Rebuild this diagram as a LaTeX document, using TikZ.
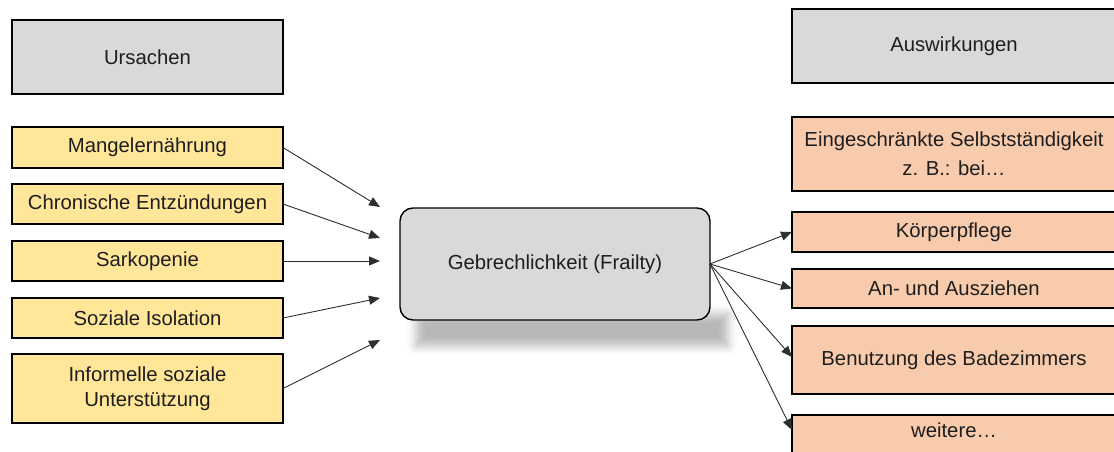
\documentclass[tikz,border=0pt]{standalone}
\usepackage{fontspec}
\setmainfont{Liberation Sans}
\usetikzlibrary{arrows.meta,shadows.blur,backgrounds}
\definecolor{headgray}{HTML}{D9D9D9}
\definecolor{causeyellow}{HTML}{FFE699}
\definecolor{effectsalmon}{HTML}{F8CBAD}
\definecolor{inkdark}{HTML}{1E1E1E}
\definecolor{arrowgray}{HTML}{2E2E2E}
\tikzset{
  labelfont/.style={font=\fontsize{20.3}{25}\selectfont},
  base/.style={draw=black, line width=1.8pt, inner sep=0pt, outer sep=0pt,
    anchor=north west, align=center, text=inkdark, labelfont},
  headbox/.style={base, fill=headgray},
  causebox/.style={base, fill=causeyellow, minimum width=271pt},
  effectbox/.style={base, fill=effectsalmon, minimum width=324pt},
  centerbox/.style={draw=black, line width=1.4pt, fill=headgray, rounded corners=13pt,
    minimum width=310pt, minimum height=112pt, inner sep=0pt, outer sep=0pt,
    anchor=north west, text=inkdark, labelfont},
  groundshadow/.style={blur shadow={shadow xshift=0pt, shadow yshift=0pt,
      shadow blur radius=9pt, shadow opacity=28}},
  link/.style={draw=arrowgray, line width=0.9pt,
    -{Triangle[length=11pt,width=9pt]}}
}
\begin{document}
\begin{tikzpicture}[x=1pt,y=-1pt]
\useasboundingbox (0,0) rectangle (1114,452);

% soft shadow lying under the central node
\path[groundshadow] (416,314) rectangle (728,346);

% headings
\node[headbox, minimum width=271pt, minimum height=74pt] (urs) at (12,20) {Ursachen};
\node[headbox, minimum width=324pt, minimum height=74pt] (ausw) at (792,9) {Auswirkungen};

% causes
\node[causebox, minimum height=41pt] (mang) at (12,127) {Mangelernährung};
\node[causebox, minimum height=40pt] (chron) at (12,184) {Chronische Entzündungen};
\node[causebox, minimum height=40pt] (sark) at (12,241) {Sarkopenie};
\node[causebox, minimum height=40pt] (soz) at (12,298) {Soziale Isolation};
\node[causebox, minimum height=69pt] (inf) at (12,354) {Informelle soziale\\Unterstützung};

% central node
\node[centerbox] (frail) at (400,208) {Gebrechlichkeit (Frailty)};

% effects
\node[effectbox, minimum height=74pt, font=\fontsize{20.3}{29}\selectfont] (selb) at (792,117)
  {Eingeschränkte Selbstständigkeit\\z. B.: bei…};
\node[effectbox, minimum height=40pt] (koerp) at (792,212) {Körperpflege};
\node[effectbox, minimum height=39pt] (anaus) at (792,269) {An- und Ausziehen};
\node[effectbox, minimum height=68pt] (bad) at (792,326) {Benutzung des Badezimmers};
\node[anchor=north west, minimum width=324pt, minimum height=30pt, inner sep=0pt,
  outer sep=0pt, text=inkdark, labelfont] (weit) at (792,415) {weitere…};
\begin{scope}[on background layer]
  \draw[line width=1.8pt, fill=effectsalmon] (weit.north west) rectangle (weit.east |- 0,462);
\end{scope}

% arrow ends in front of the central node
\coordinate (inA) at (380,207);
\coordinate (inB) at (380,238);
\coordinate (inC) at (380,261);
\coordinate (inD) at (380,298);
\coordinate (inE) at (380,340);

% causes lead into the centre
\draw[link] (mang.east) -- (inA);
\draw[link] (chron.east) -- (inB);
\draw[link] (sark.east) -- (inC);
\draw[link] (soz.east) -- (inD);
\draw[link] (inf.east) -- (inE);

% effects fan out from the centre
\coordinate (outA) at (frail.east);
\draw[link] (outA) -- (koerp.west);
\draw[link] (outA) -- (anaus.west);
\draw[link] (outA) -- ([yshift=3pt]bad.west);
\draw[link] (outA) -- (weit.west);
\end{tikzpicture}
\end{document}
